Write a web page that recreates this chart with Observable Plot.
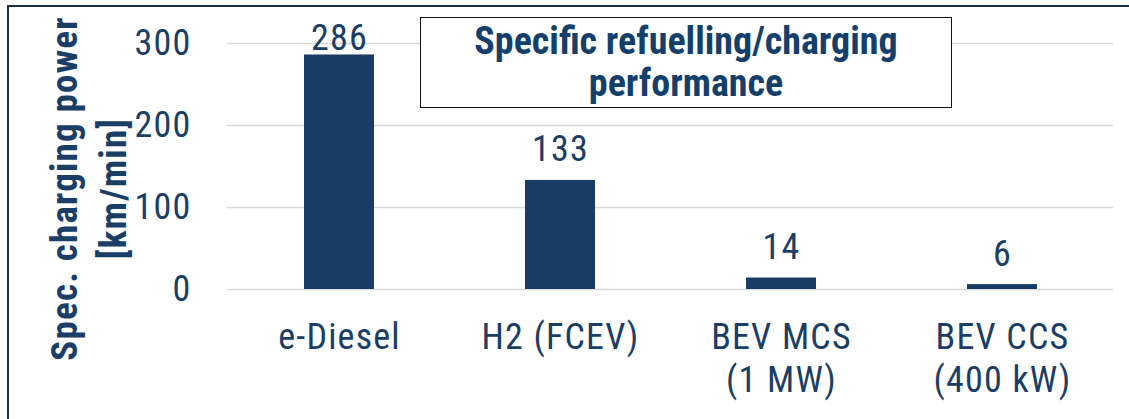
<!DOCTYPE html>
<html>
<head>
<meta charset="utf-8">
<script src="https://cdn.jsdelivr.net/npm/d3@7"></script>
<script src="https://cdn.jsdelivr.net/npm/@observablehq/plot@0.6"></script>
<style>
  html, body { margin: 0; padding: 0; background: #fff; overflow: hidden; }
  #wrap { position: relative; width: 1129px; height: 419px; }
  #frame { position: absolute; left: 7px; top: 5px; width: 1300px; height: 600px;
           border-left: 2px solid #1b2f4a; border-top: 2px solid #1b2f4a; box-sizing: border-box; pointer-events: none; }
  #title { position: absolute; left: 420px; top: 17px; width: 532px; height: 91px; box-sizing: border-box;
           border: 1.6px solid #111; background: #fff; display: flex; align-items: center; justify-content: center;
           text-align: center; font-family: "Roboto Condensed", "Liberation Sans Narrow", "DejaVu Sans Condensed", sans-serif;
           font-weight: bold; font-size: 38px; line-height: 42px; color: #143f6b; padding-bottom: 2px; }
  svg { font-family: "Roboto Condensed", "Liberation Sans Narrow", "DejaVu Sans Condensed", sans-serif; }
  g[aria-label="y-title"] { letter-spacing: 0px; }
</style>
</head>
<body>
<div id="wrap"></div>
<script>
const categories = ["e-Diesel", "H2 (FCEV)", "BEV MCS\n(1 MW)", "BEV CCS\n(400 kW)"];
const values = [286, 133, 14, 6];
const yTicks = [0, 100, 200, 300];
const yTitle = "Spec. charging power\n[km/min]";
const chartTitle = "Specific refuelling/charging\nperformance";

const data = categories.map((c, i) => ({category: c, value: values[i]}));
const barColor = "#183c64";
const textColor = "#1a3e66";
const font = '"Roboto Condensed", "Liberation Sans Narrow", "DejaVu Sans Condensed", sans-serif';

const chart = Plot.plot({
  width: 1129,
  height: 419,
  marginLeft: 227,
  marginRight: 16,
  marginTop: 43,
  marginBottom: 130,
  style: {fontFamily: font, fontSize: "36px", color: textColor, background: "transparent", overflow: "visible", letterSpacing: "1.2px"},
  x: {domain: categories, paddingInner: 0.684, paddingOuter: 0.342, label: null},
  y: {domain: [0, 300], label: null},
  marks: [
    Plot.gridY(yTicks, {stroke: "#d9d9d9", strokeOpacity: 1, strokeWidth: 1.4}),
    Plot.barY(data, {x: "category", y: "value", fill: barColor}),
    Plot.text(data.filter(d => d.value < 250), {x: "category", y: "value", text: d => String(d.value),
      lineAnchor: "bottom", dy: -19, fill: textColor, fontSize: 36}),
    Plot.text(data.filter(d => d.value >= 250), {x: "category", y: "value", text: d => String(d.value),
      lineAnchor: "bottom", dy: -5, fill: textColor, fontSize: 36}),
    Plot.axisY(yTicks, {tickSize: 0, tickPadding: 36, fontSize: 36, label: null, fill: textColor}),
    Plot.axisX({tickSize: 0, tickPadding: 29, fontSize: 36, lineHeight: 1.2, label: null, fill: textColor}),
    Plot.text([yTitle], {ariaLabel: "y-title", frameAnchor: "left", textAnchor: "middle", lineAnchor: "middle", rotate: -90,
      dx: -142, dy: 22, fontSize: 37, fontWeight: "bold", lineHeight: 1.33, fill: textColor})
  ]
});

const wrap = document.getElementById("wrap");
wrap.appendChild(chart);
const frame = document.createElement("div");
frame.id = "frame";
wrap.appendChild(frame);
const title = document.createElement("div");
title.id = "title";
title.innerHTML = chartTitle.split("\n").join("<br>");
wrap.appendChild(title);
chart.style.position = "absolute";
chart.style.left = "0px";
chart.style.top = "0px";
</script>
</body>
</html>
